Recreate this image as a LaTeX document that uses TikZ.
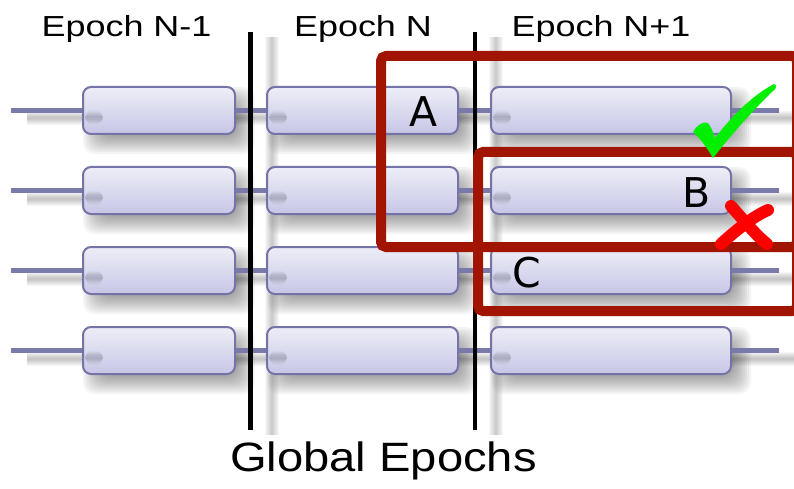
\documentclass[tikz,border=0pt]{standalone}
\usepackage{fontspec}
\setmainfont{Liberation Sans}
\newfontfamily\labelfont{DejaVu Sans}
\usetikzlibrary{calc}
\pgfdeclarelayer{shadow}
\pgfsetlayers{shadow,main}

\definecolor{wire}{RGB}{122,122,170}
\definecolor{boxedge}{RGB}{116,116,168}
\definecolor{boxtop}{RGB}{238,238,248}
\definecolor{boxbottom}{RGB}{198,198,230}
\definecolor{selframe}{RGB}{160,20,0}
\definecolor{okgreen}{RGB}{0,238,0}
\definecolor{badred}{RGB}{255,0,0}

\tikzset{
  taskbox/.style={draw=boxedge, line width=2pt, rounded corners=8pt,
    top color=boxtop, bottom color=boxbottom, minimum height=47pt, inner sep=0pt},
  wireline/.style={draw=wire, line width=5pt},
  epochline/.style={draw=black, line width=4.5pt},
  selbox/.style={draw=selframe, line width=10pt, rounded corners=5pt},
  taglabel/.style={font=\labelfont\fontsize{41}{41}\selectfont, inner sep=0pt},
  headlabel/.style={font=\fontsize{29}{29}\selectfont, inner sep=0pt, anchor=base},
  softshade/.style={black, opacity=0.045},
}

\begin{document}
\begin{tikzpicture}[x=1pt,y=-1pt]
\useasboundingbox (0,0) rectangle (794,489);

% epoch boundaries
\coordinate (v1t) at (250.5,32);
\coordinate (v1b) at (250.5,430);
\coordinate (v2t) at (475,32);
\coordinate (v2b) at (475,430);

% four threads, three epochs each
\foreach \r/\y in {1/110.5,2/190.5,3/270.5,4/350.5} {
  \coordinate (s\r) at (11,\y);
  \coordinate (e\r) at (779,\y);
  \node[taskbox, minimum width=152pt] (b\r1) at (159,\y) {};
  \node[taskbox, minimum width=191pt] (b\r2) at (362.5,\y) {};
  \node[taskbox, minimum width=240pt] (b\r3) at (611,\y) {};
  \draw[wireline] (s\r) -- (b\r1);
  \draw[wireline] (b\r1) -- (b\r2);
  \draw[wireline] (b\r2) -- (b\r3);
  \draw[wireline] (b\r3) -- (e\r);
}

% soft drop shadows
\begin{pgfonlayer}{shadow}
  \foreach \r in {1,...,4} {
    \foreach \c in {1,2,3} {
      \foreach \k in {-9,-7,...,9}
        \fill[softshade, rounded corners=12pt]
          ([shift={(10-\k,10-\k)}]b\r\c.north west) rectangle
          ([shift={(10+\k,10+\k)}]b\r\c.south east);
    }
    \foreach \w in {2,4,...,14}
      \draw[black, opacity=0.035, line width=\w pt]
        ([shift={(16,8)}]s\r) -- ([shift={(16,8)}]e\r);
  }
  \foreach \v in {1,2}
    \foreach \w in {2,4,...,14}
      \draw[black, opacity=0.03, line width=\w pt]
        ([shift={(21,5)}]v\v t) -- ([shift={(21,5)}]v\v b);
\end{pgfonlayer}

% wire shadows seen through the left end of each box
\foreach \r in {1,...,4}
  \foreach \c in {1,2,3}
    \foreach \k in {0,2,...,10}
      \draw[black, opacity=0.03, line width=2+\k*1.2 pt, line cap=round]
        ([shift={(4+\k*0.6,7)}]b\r\c.west) -- ([shift={(20-\k*0.6,7)}]b\r\c.west);

\draw[epochline] (v1t) -- (v1b);
\draw[epochline] (v2t) -- (v2b);

% headings
\node[headlabel] (h1) at (126.5,36.7) {\scalebox{1.24}[1]{Epoch N-1}};
\node[headlabel] (h2) at (363,36.7) {\scalebox{1.24}[1]{Epoch N}};
\node[headlabel] (h3) at (601,36.7) {\scalebox{1.24}[1]{Epoch N+1}};
\node[font=\fontsize{41}{41}\selectfont, anchor=base, inner sep=0pt] (ge)
  at (383.5,471.5) {\scalebox{1.15}[1]{Global Epochs}};

% selection windows
\draw[selbox] (381,56) rectangle (797,247);
\draw[selbox] (478,152) rectangle (797,311);

% task labels
\node[taglabel] (la) at (424,112) {A};
\node[taglabel] (lb) at (697,192.5) {B};
\node[taglabel] (lc) at (527,273) {C};

% tick
\fill[okgreen] (693,132) .. controls (697,125) and (703,121) .. (708,123)
  .. controls (711,127) and (713,132) .. (715,138)
  .. controls (735,112) and (755,94) .. (774,84)
  .. controls (777,85) and (777,88) .. (773,91)
  .. controls (750,113) and (728,139) .. (713,158)
  .. controls (707,148) and (700,138) .. (693,132) -- cycle;

% cross
\draw[badred, line width=12pt, line cap=round]
  (731,206) .. controls (745,222) and (757,236) .. (767,244);
\draw[badred, line width=12pt, line cap=round]
  (768,210) .. controls (752,217) and (734,232) .. (721,244);
\end{tikzpicture}
\end{document}
